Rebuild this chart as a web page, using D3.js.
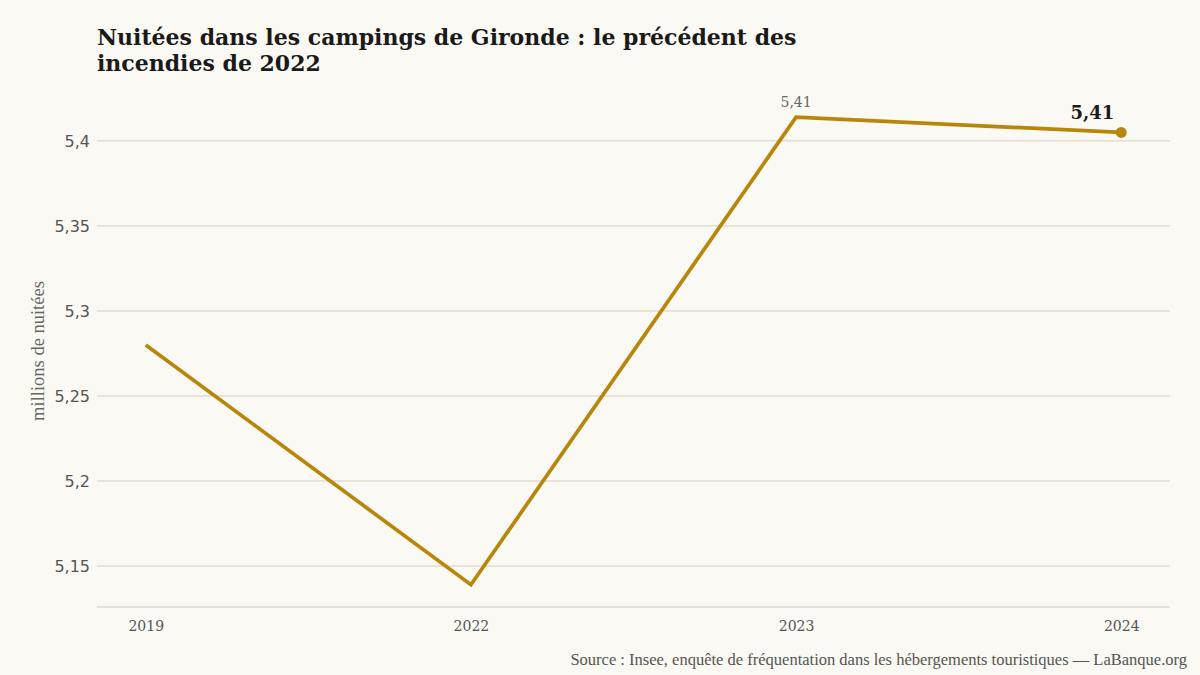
<!DOCTYPE html>
<html>
<head>
<meta charset="utf-8">
<script src="https://cdn.jsdelivr.net/npm/d3@7"></script>
<style>
  html, body { margin: 0; padding: 0; background: #fbf9f3; }
  svg { display: block; }
</style>
</head>
<body>
<svg id="chart" width="1200" height="675"></svg>
<script>
// data
const years = ['2019', '2022', '2023', '2024'];
const nights = [5.28, 5.139, 5.414, 5.405];
const yTicks = [5.15, 5.2, 5.25, 5.3, 5.35, 5.4];

const width = 1200;
const height = 675;
const margin = { top: 95, right: 30, bottom: 68, left: 97 };

const svg = d3.select('#chart');

svg.append('rect')
  .attr('width', width)
  .attr('height', height)
  .attr('fill', '#fbf9f3');

const x = d3.scalePoint()
  .domain(years)
  .range([margin.left, width - margin.right])
  .padding(0.15);

const y = d3.scaleLinear()
  .domain([5.1259, 5.427])
  .range([height - margin.bottom, margin.top]);

const fmt = v => d3.format('~g')(v).replace('.', ',');

// Title
const title = svg.append('text')
  .attr('x', 97)
  .attr('y', 45)
  .attr('font-family', '"DejaVu Serif", serif')
  .attr('font-weight', 'bold')
  .attr('font-size', 22)
  .attr('fill', '#1a1a1a');
title.append('tspan').attr('x', 97).text('Nuitées dans les campings de Gironde : le précédent des');
title.append('tspan').attr('x', 97).attr('dy', 26).text('incendies de 2022');

// Grid
svg.append('g')
  .selectAll('line')
  .data(yTicks)
  .join('line')
  .attr('x1', margin.left)
  .attr('x2', width - margin.right)
  .attr('y1', d => y(d))
  .attr('y2', d => y(d))
  .attr('stroke', '#dacdc0')
  .attr('stroke-width', 1);

// Y axis labels
const yAxis = svg.append('g')
  .attr('transform', `translate(${margin.left},0)`)
  .call(d3.axisLeft(y).tickValues(yTicks).tickFormat(fmt).tickSize(0).tickPadding(7));
yAxis.select('.domain').remove();
yAxis.selectAll('text')
  .attr('font-family', '"DejaVu Sans", sans-serif')
  .attr('font-size', 16)
  .attr('fill', '#555');

// X axis
const xAxis = svg.append('g')
  .attr('transform', `translate(0,${height - margin.bottom})`)
  .call(d3.axisBottom(x).tickSize(0).tickPadding(14));
xAxis.select('.domain')
  .attr('stroke', '#d0ccc4')
  .attr('stroke-width', 1.2)
  .attr('d', `M${margin.left},0H${width - margin.right}`);
xAxis.selectAll('text')
  .attr('font-family', '"DejaVu Serif", serif')
  .attr('font-size', 14)
  .attr('fill', '#555');

// Y axis title
svg.append('text')
  .attr('transform', `translate(44,${(margin.top + height - margin.bottom) / 2}) rotate(-90)`)
  .attr('text-anchor', 'middle')
  .attr('font-family', '"Liberation Serif", serif')
  .attr('font-size', 18.5)
  .attr('fill', '#666')
  .text('millions de nuitées');

// Line
const line = d3.line()
  .x((d, i) => x(years[i]))
  .y(d => y(d));

svg.append('path')
  .datum(nights)
  .attr('d', line)
  .attr('fill', 'none')
  .attr('stroke', '#b8860b')
  .attr('stroke-width', 3.7)
  .attr('stroke-linejoin', 'miter');

const last = nights.length - 1;
svg.append('circle')
  .attr('cx', x(years[last]))
  .attr('cy', y(nights[last]))
  .attr('r', 5.5)
  .attr('fill', '#b8860b');

// Labels
svg.append('text')
  .attr('x', x(years[2]))
  .attr('y', y(nights[2]) - 10)
  .attr('text-anchor', 'middle')
  .attr('font-family', '"DejaVu Serif", serif')
  .attr('font-size', 14)
  .attr('fill', '#666')
  .text(d3.format('.2f')(nights[2]).replace('.', ','));

svg.append('text')
  .attr('x', x(years[last]) - 7)
  .attr('y', y(nights[last]) - 13)
  .attr('text-anchor', 'end')
  .attr('font-family', '"DejaVu Serif", serif')
  .attr('font-weight', 'bold')
  .attr('font-size', 18)
  .attr('fill', '#1a1a1a')
  .text(d3.format('.2f')(nights[last]).replace('.', ','));

// Source
svg.append('text')
  .attr('x', 1187)
  .attr('y', 665)
  .attr('text-anchor', 'end')
  .attr('font-family', '"Liberation Serif", serif')
  .attr('font-size', 16.5)
  .attr('fill', '#555')
  .text('Source : Insee, enquête de fréquentation dans les hébergements touristiques — LaBanque.org');
</script>
</body>
</html>
